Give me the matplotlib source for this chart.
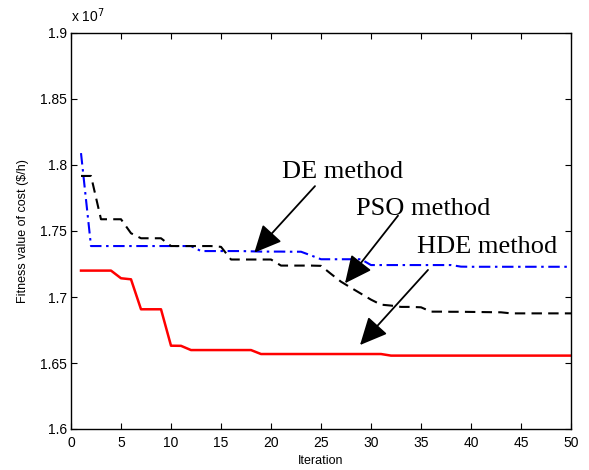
import matplotlib
matplotlib.use("Agg")
import matplotlib.pyplot as plt
import numpy as np

# Values in units of 10^7 $/h
iterations = list(range(1, 51))

hde = [1.7200, 1.7200, 1.7200, 1.7200, 1.7142, 1.7134, 1.6907, 1.6907, 1.6907, 1.6631,
       1.6630, 1.6598, 1.6598, 1.6598, 1.6598, 1.6598, 1.6598, 1.6598, 1.6568, 1.6568,
       1.6568, 1.6568, 1.6568, 1.6568, 1.6568, 1.6568, 1.6568, 1.6568, 1.6568, 1.6568,
       1.6568, 1.6556, 1.6556, 1.6556, 1.6556, 1.6556, 1.6556, 1.6556, 1.6556, 1.6556,
       1.6556, 1.6556, 1.6556, 1.6556, 1.6556, 1.6556, 1.6556, 1.6556, 1.6556, 1.6556]

pso = [1.7917, 1.7917, 1.7589, 1.7589, 1.7589, 1.7483, 1.7445, 1.7445, 1.7445, 1.7386,
       1.7386, 1.7386, 1.7386, 1.7386, 1.7380, 1.7284, 1.7284, 1.7284, 1.7284, 1.7284,
       1.7238, 1.7238, 1.7238, 1.7238, 1.7236, 1.7175, 1.7116, 1.7070, 1.7025, 1.6980,
       1.6942, 1.6935, 1.6925, 1.6925, 1.6922, 1.6889, 1.6889, 1.6888, 1.6888, 1.6887,
       1.6886, 1.6885, 1.6884, 1.6876, 1.6876, 1.6876, 1.6876, 1.6876, 1.6876, 1.6876]

de = [1.8090, 1.7386, 1.7386, 1.7386, 1.7386, 1.7386, 1.7386, 1.7386, 1.7386, 1.7386,
      1.7386, 1.7386, 1.7348, 1.7348, 1.7348, 1.7348, 1.7348, 1.7346, 1.7344, 1.7344,
      1.7344, 1.7343, 1.7343, 1.7315, 1.7286, 1.7286, 1.7286, 1.7286, 1.7286, 1.7242,
      1.7242, 1.7242, 1.7242, 1.7242, 1.7242, 1.7242, 1.7242, 1.7242, 1.7230, 1.7229,
      1.7229, 1.7229, 1.7229, 1.7229, 1.7229, 1.7229, 1.7229, 1.7229, 1.7229, 1.7229]

x_ticks = [0, 5, 10, 15, 20, 25, 30, 35, 40, 45, 50]
y_ticks = [1.6, 1.65, 1.7, 1.75, 1.8, 1.85, 1.9]
y_ticklabels = ["1.6", "1.65", "1.7", "1.75", "1.8", "1.85", "1.9"]

labels = ["DE method", "PSO method", "HDE method"]
label_pos = [(21.07, 1.7905), (28.5, 1.7620), (34.57, 1.7331)]
arrow_tail = [(24.4, 1.7840), (32.7, 1.7616), (35.7, 1.7205)]
arrow_tip = [(18.33, 1.7336), (27.4, 1.7104), (28.9, 1.6636)]

sans = ["Liberation Sans", "DejaVu Sans"]
serif = ["Liberation Serif", "DejaVu Serif"]

fig = plt.figure(figsize=(5.89, 4.70), dpi=100)
ax = fig.add_axes([71/589, 1-429/470, 500/589, 396/470])

ax.plot(iterations, de, color="blue", lw=1.5, linestyle=(0, (5.5, 2.2, 1.2, 2.2)))
ax.plot(iterations, pso, color="black", lw=1.5, linestyle=(0, (5, 3)))
ax.plot(iterations, hde, color="red", lw=1.8, linestyle="-")

ax.set_xlim(0, 50)
ax.set_ylim(1.6, 1.9)
ax.set_xticks(x_ticks)
ax.set_xticklabels([str(t) for t in x_ticks], family=sans, fontsize=10)
ax.set_yticks(y_ticks)
ax.set_yticklabels(y_ticklabels, family=sans, fontsize=10)
ax.tick_params(direction="in", length=4.5, width=0.8, top=True, right=True)
ax.tick_params(axis="x", pad=5)
ax.tick_params(axis="y", pad=3)
for s in ax.spines.values():
    s.set_linewidth(1.0)

ax.set_xlabel("Iteration", family=sans, fontsize=9, labelpad=4)
ax.set_ylabel("Fitness value of cost ($/h)", family=sans, fontsize=9, labelpad=8)
ax.text(0.0, 1.02, r"x 10$^{7}$", transform=ax.transAxes, family=sans,
        fontsize=10, ha="left", va="bottom")

for lab, pos, tail, tip in zip(labels, label_pos, arrow_tail, arrow_tip):
    ax.text(pos[0], pos[1], lab, family=serif, fontsize=19, ha="left", va="baseline")
    ax.annotate("", xy=tip, xytext=tail,
                arrowprops=dict(arrowstyle="-|>,head_length=0.7,head_width=0.33",
                                mutation_scale=24, color="black", lw=1.3,
                                shrinkA=0, shrinkB=0))

fig.savefig("out.png", dpi=100)
